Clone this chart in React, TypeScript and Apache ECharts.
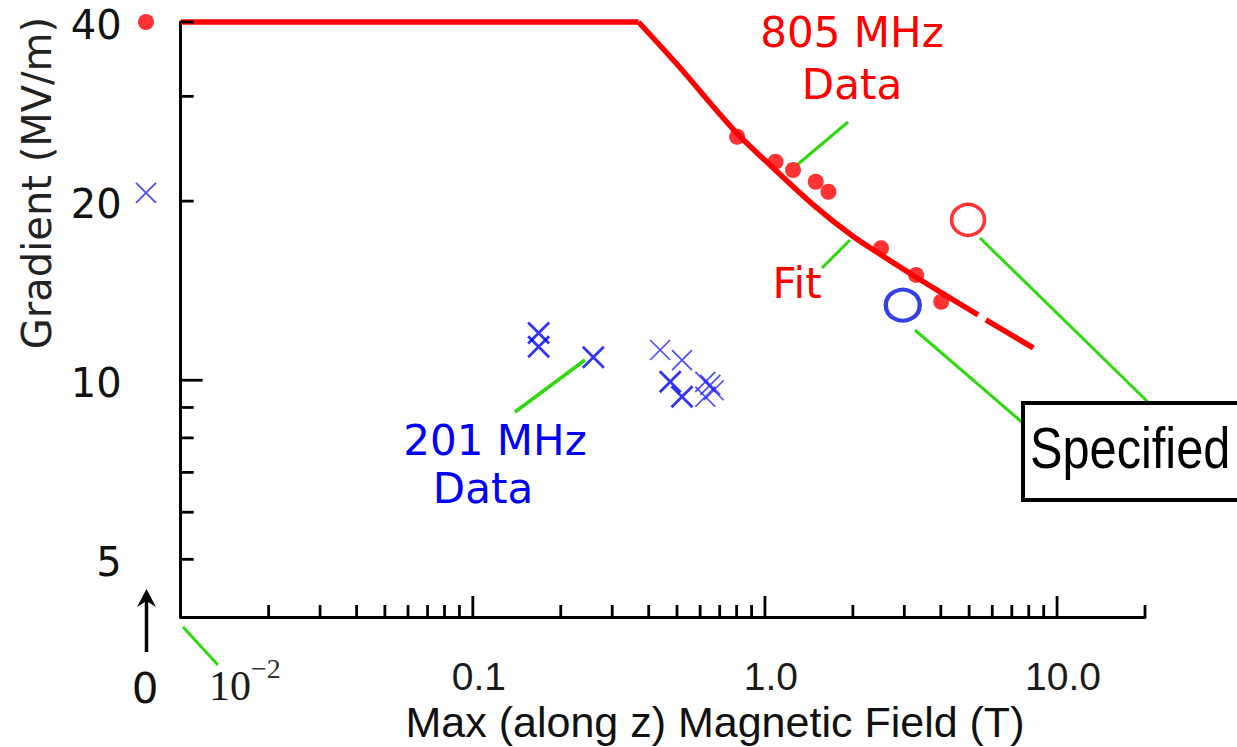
import React, { useEffect, useRef } from 'react';
import * as echarts from 'echarts';

// ---- data (B field in T, gradient in MV/m) ----
const fitFlatB = [0.01, 0.369];
const fitFlatG = [40, 40];
const fitCurveB = [0.369, 0.507, 0.791, 1.085, 1.454, 1.995, 2.53, 3.285, 4.3, 5.366, null, 5.71, 8.29];
const fitCurveG = [40, 33.7, 26.2, 22.56, 19.77, 17.47, 16.18, 14.91, 13.75, 12.88, null, 12.63, 11.33];
const data805B = [0.803, 1.087, 1.248, 1.492, 1.65, 2.496, 3.292, 4.012];
const data805G = [25.66, 23.3, 22.56, 21.56, 20.74, 16.67, 15.03, 13.55];
const data201B = [0.168, 0.168, 0.2585, 0.474, 0.52];
const data201G = [12.0, 11.38, 10.93, 9.94, 9.38];
const data201LightB = [0.4377, 0.52, 0.625, 0.668, 0.625, 0.65];
const data201LightG = [11.24, 10.81, 9.94, 9.62, 9.38, 9.82];
const zeroField805G = [40];
const zeroField201G = [20.65];
const specified805 = [4.957, 18.6];
const specified201 = [2.964, 13.37];
const xMajorTicks = [0.1, 1, 10];
const xMinorTicks = [
  0.02, 0.03, 0.04, 0.05, 0.06, 0.07, 0.08, 0.09,
  0.2, 0.3, 0.4, 0.5, 0.6, 0.7, 0.8, 0.9,
  2, 3, 4, 5, 6, 7, 8, 9, 20,
];
const yMajorTicks = [10];
const yMinorTicks = [5, 6, 7, 8, 9, 20, 30, 40];
const xTickLabelValues = [0.1, 1, 10];
const xTickLabels = ['0.1', '1.0', '10.0'];
const yTickLabelValues = [5, 10, 20, 40];
const yTickLabels = ['5', '10', '20', '40'];

const X_MIN = 0.01;
const X_MAX = 20;
const Y_MIN = 4;
const Y_MAX = 40;

const RED = '#ff0000';
const BLUE = '#0000f8';
const GREEN = '#2fd80f';
const CROSS = 'path://M0,0L20,20M20,0L0,20';

const pairs = (xs: (number | null)[], ys: (number | null)[]) =>
  xs.map((x, i) => (x == null || ys[i] == null ? ['-', '-'] : [x, ys[i]]));

export default function App() {
  const ref = useRef<HTMLDivElement>(null);

  useEffect(() => {
    if (!ref.current) return;
    const chart = echarts.init(ref.current, undefined, { renderer: 'svg' });

    const gridBox = { top: 22, bottom: 130 };

    const xTickData = xMinorTicks
      .map((v) => [v, Y_MIN, 12])
      .concat(xMajorTicks.map((v) => [v, Y_MIN, 21]));
    const yTickData = yMinorTicks
      .map((v) => [X_MIN, v, 13])
      .concat(yMajorTicks.map((v) => [X_MIN, v, 22]));

    const option: any = {
      animation: false,
      backgroundColor: '#ffffff',
      grid: [
        { left: 180.7, right: 92, ...gridBox },
        { left: 136, width: 20, ...gridBox },
      ],
      xAxis: [
        {
          type: 'log',
          logBase: 10,
          min: X_MIN,
          max: X_MAX,
          gridIndex: 0,
          axisLine: { show: true, lineStyle: { color: '#000', width: 3 } },
          axisTick: { show: false },
          axisLabel: { show: false },
          splitLine: { show: false },
        },
        { type: 'value', min: -1, max: 1, gridIndex: 1, show: false },
      ],
      yAxis: [
        {
          type: 'log',
          logBase: 10,
          min: Y_MIN,
          max: Y_MAX,
          gridIndex: 0,
          axisLine: { show: true, lineStyle: { color: '#000', width: 3 } },
          axisTick: { show: false },
          axisLabel: { show: false },
          splitLine: { show: false },
        },
        { type: 'log', logBase: 10, min: Y_MIN, max: Y_MAX, gridIndex: 1, show: false },
      ],
      series: [
        // x ticks
        {
          type: 'custom',
          silent: true,
          xAxisIndex: 0,
          yAxisIndex: 0,
          encode: { x: 0, y: 1 },
          data: xTickData,
          z: 5,
          renderItem: (params: any, api: any) => {
            const p = api.coord([api.value(0), api.value(1)]);
            const len = api.value(2);
            return {
              type: 'line',
              shape: { x1: p[0], y1: p[1], x2: p[0], y2: p[1] - len },
              style: { stroke: '#000', lineWidth: 2.8 },
            };
          },
        },
        // y ticks
        {
          type: 'custom',
          silent: true,
          xAxisIndex: 0,
          yAxisIndex: 0,
          encode: { x: 0, y: 1 },
          data: yTickData,
          z: 5,
          renderItem: (params: any, api: any) => {
            const p = api.coord([api.value(0), api.value(1)]);
            const len = api.value(2);
            return {
              type: 'line',
              shape: { x1: p[0], y1: p[1], x2: p[0] + len, y2: p[1] },
              style: { stroke: '#000', lineWidth: 2.8 },
            };
          },
        },
        // x tick labels
        {
          type: 'custom',
          silent: true,
          xAxisIndex: 0,
          yAxisIndex: 0,
          encode: { x: 0, y: 1 },
          data: xTickLabelValues.map((v) => [v, Y_MIN]),
          renderItem: (params: any, api: any) => {
            const p = api.coord([api.value(0), api.value(1)]);
            return {
              type: 'text',
              x: p[0] + 6,
              y: p[1] + 59,
              style: {
                text: xTickLabels[params.dataIndex],
                fill: '#1a1a1a',
                fontSize: 39,
                lineHeight: 39,
                fontFamily: 'Liberation Sans',
                align: 'center',
                verticalAlign: 'middle',
              },
            };
          },
        },
        // y tick labels
        {
          type: 'custom',
          silent: true,
          xAxisIndex: 0,
          yAxisIndex: 0,
          encode: { x: 0, y: 1 },
          data: yTickLabelValues.map((v) => [X_MIN, v]),
          renderItem: (params: any, api: any) => {
            const p = api.coord([api.value(0), api.value(1)]);
            return {
              type: 'text',
              x: p[0] - 59,
              y: p[1] + 3,
              style: {
                text: yTickLabels[params.dataIndex],
                fill: '#111',
                fontSize: 40,
                fontFamily: 'DejaVu Sans',
                align: 'right',
                verticalAlign: 'middle',
              },
            };
          },
        },
        // fit: flat part
        {
          type: 'line',
          name: 'Fit',
          xAxisIndex: 0,
          yAxisIndex: 0,
          data: pairs(fitFlatB, fitFlatG),
          showSymbol: false,
          clip: false,
          lineStyle: { color: RED, width: 5.5 },
          z: 3,
        },
        // fit: falling part
        {
          type: 'line',
          name: 'Fit',
          xAxisIndex: 0,
          yAxisIndex: 0,
          data: pairs(fitCurveB, fitCurveG),
          showSymbol: false,
          smooth: 0.3,
          connectNulls: false,
          clip: false,
          lineStyle: { color: RED, width: 5.5 },
          z: 3,
        },
        // 805 MHz data
        {
          type: 'scatter',
          name: '805 MHz Data',
          xAxisIndex: 0,
          yAxisIndex: 0,
          data: pairs(data805B, data805G),
          symbol: 'circle',
          symbolSize: 16,
          itemStyle: { color: RED },
          z: 4,
        },
        // 201 MHz data (bold)
        {
          type: 'scatter',
          name: '201 MHz Data',
          xAxisIndex: 0,
          yAxisIndex: 0,
          data: pairs(data201B, data201G),
          symbol: CROSS,
          symbolSize: 21,
          itemStyle: { color: 'rgba(0,0,0,0)', borderColor: BLUE, borderWidth: 2.8 },
          z: 4,
        },
        // 201 MHz data (light)
        {
          type: 'scatter',
          name: '201 MHz Data',
          xAxisIndex: 0,
          yAxisIndex: 0,
          data: pairs(data201LightB, data201LightG),
          symbol: CROSS,
          symbolSize: 20,
          itemStyle: { color: 'rgba(0,0,0,0)', borderColor: '#2020ff', borderWidth: 1.7 },
          z: 4,
        },
        // specified points
        {
          type: 'scatter',
          name: 'Specified 805',
          xAxisIndex: 0,
          yAxisIndex: 0,
          data: [specified805],
          symbol: 'circle',
          symbolSize: [33, 31],
          itemStyle: { color: 'rgba(255,255,255,0)', borderColor: RED, borderWidth: 3.5 },
          z: 4,
        },
        {
          type: 'scatter',
          name: 'Specified 201',
          xAxisIndex: 0,
          yAxisIndex: 0,
          data: [specified201],
          symbol: 'circle',
          symbolSize: [34, 31],
          itemStyle: { color: 'rgba(255,255,255,0)', borderColor: '#0010e0', borderWidth: 4.2 },
          z: 4,
        },
        // zero-field points
        {
          type: 'scatter',
          name: '805 MHz at 0 T',
          xAxisIndex: 1,
          yAxisIndex: 1,
          data: zeroField805G.map((g) => [0, g]),
          symbol: 'circle',
          symbolSize: 16,
          itemStyle: { color: RED },
          clip: false,
          z: 4,
        },
        {
          type: 'scatter',
          name: '201 MHz at 0 T',
          xAxisIndex: 1,
          yAxisIndex: 1,
          data: zeroField201G.map((g) => [0, g]),
          symbol: CROSS,
          symbolSize: 20,
          itemStyle: { color: 'rgba(0,0,0,0)', borderColor: '#2020ff', borderWidth: 1.8 },
          clip: false,
          z: 4,
        },
      ],
      graphic: [
        // leaders
        { type: 'line', shape: { x1: 848, y1: 122, x2: 797, y2: 165 }, style: { stroke: GREEN, lineWidth: 3 } },
        { type: 'line', shape: { x1: 850, y1: 240, x2: 822, y2: 268 }, style: { stroke: GREEN, lineWidth: 3 } },
        { type: 'line', shape: { x1: 585, y1: 360, x2: 515, y2: 412 }, style: { stroke: GREEN, lineWidth: 3.5 } },
        { type: 'line', shape: { x1: 980, y1: 238, x2: 1150, y2: 404 }, style: { stroke: GREEN, lineWidth: 3 } },
        { type: 'line', shape: { x1: 915, y1: 330, x2: 1023, y2: 423 }, style: { stroke: GREEN, lineWidth: 3 } },
        { type: 'line', shape: { x1: 183, y1: 627, x2: 218, y2: 665 }, style: { stroke: GREEN, lineWidth: 3 } },
        // annotation texts
        {
          type: 'text', x: 852, y: 32,
          style: { text: '805 MHz', fill: RED, fontSize: 42, fontFamily: 'DejaVu Sans', align: 'center', verticalAlign: 'middle' },
        },
        {
          type: 'text', x: 852, y: 84,
          style: { text: 'Data', fill: RED, fontSize: 42, fontFamily: 'DejaVu Sans', align: 'center', verticalAlign: 'middle' },
        },
        {
          type: 'text', x: 797, y: 283,
          style: { text: 'Fit', fill: RED, fontSize: 42, fontFamily: 'DejaVu Sans', align: 'center', verticalAlign: 'middle' },
        },
        {
          type: 'text', x: 495, y: 440,
          style: { text: '201 MHz', fill: BLUE, fontSize: 42, fontFamily: 'DejaVu Sans', align: 'center', verticalAlign: 'middle' },
        },
        {
          type: 'text', x: 483, y: 488,
          style: { text: 'Data', fill: BLUE, fontSize: 42, fontFamily: 'DejaVu Sans', align: 'center', verticalAlign: 'middle' },
        },
        // Specified box
        {
          type: 'rect', shape: { x: 1023, y: 403, width: 260, height: 97 },
          style: { fill: '#fff', stroke: '#000', lineWidth: 4 }, z: 10,
        },
        {
          type: 'text', x: 1030, y: 448, scaleX: 0.84, z: 11,
          style: { text: 'Specified', fill: '#000', fontSize: 58, fontFamily: 'Liberation Sans', align: 'left', verticalAlign: 'middle' },
        },
        // zero marker: arrow and "0"
        { type: 'line', shape: { x1: 146.5, y1: 652, x2: 146.5, y2: 596 }, style: { stroke: '#000', lineWidth: 3.5 } },
        {
          type: 'polygon',
          shape: { points: [[146.5, 589], [156, 607], [146.5, 601], [137, 607]] },
          style: { fill: '#000' },
        },
        {
          type: 'text', x: 145, y: 688,
          style: { text: '0', fill: '#111', fontSize: 42, fontFamily: 'DejaVu Sans', align: 'center', verticalAlign: 'middle' },
        },
        // 10^-2 label
        {
          type: 'text', x: 209, y: 686,
          style: { text: '10', fill: '#1a1a1a', fontSize: 42, fontFamily: 'Liberation Serif', align: 'left', verticalAlign: 'middle' },
        },
        {
          type: 'text', x: 251, y: 668,
          style: { text: '\u22122', fill: '#333', fontSize: 28, fontFamily: 'Liberation Serif', align: 'left', verticalAlign: 'middle' },
        },
        // axis titles
        {
          type: 'text', x: 715, y: 722,
          style: { text: 'Max (along z) Magnetic Field (T)', fill: '#111', fontSize: 43, lineHeight: 43, fontFamily: 'Liberation Sans', align: 'center', verticalAlign: 'middle' },
        },
        {
          type: 'text', x: 37, y: 183, rotation: Math.PI / 2,
          style: { text: 'Gradient (MV/m)', fill: '#222', fontSize: 40, fontFamily: 'DejaVu Sans', align: 'center', verticalAlign: 'middle' },
        },
      ],
    };

    chart.setOption(option);
    return () => chart.dispose();
  }, []);

  return (
    <div
      ref={ref}
      style={{ position: 'absolute', left: 0, top: 0, width: 1237, height: 747, background: '#fff' }}
    />
  );
}
